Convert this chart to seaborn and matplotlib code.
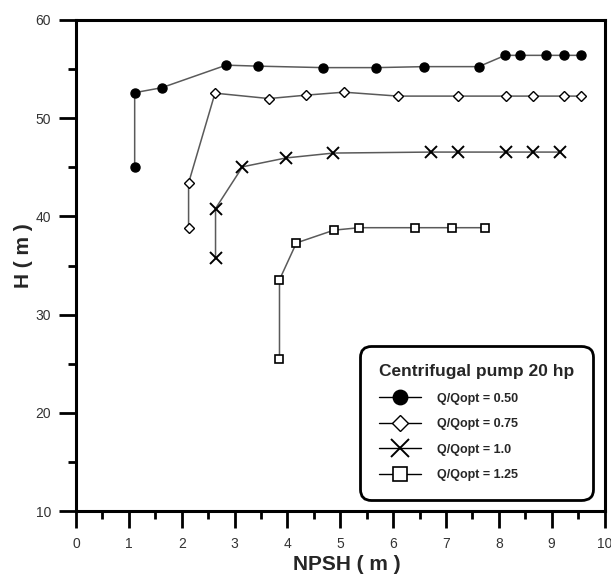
import matplotlib
matplotlib.use("Agg")
import matplotlib.pyplot as plt
from matplotlib.lines import Line2D
from matplotlib.ticker import MultipleLocator
import seaborn as sns
import pandas as pd

# ---- data ----
npsh_050 = [1.11, 1.11, 1.62, 2.84, 3.45, 4.67, 5.68, 6.59, 7.62, 8.12, 8.41, 8.90, 9.24, 9.55]
h_050 = [45.0, 52.6, 53.1, 55.4, 55.3, 55.15, 55.15, 55.25, 55.25, 56.4, 56.4, 56.4, 56.4, 56.4]

npsh_075 = [2.13, 2.13, 2.63, 3.65, 4.36, 5.07, 6.09, 7.22, 8.14, 8.65, 9.24, 9.56]
h_075 = [38.85, 43.4, 52.55, 52.0, 52.35, 52.65, 52.25, 52.25, 52.25, 52.25, 52.25, 52.25]

npsh_100 = [2.64, 2.64, 3.15, 3.97, 4.87, 6.71, 7.22, 8.14, 8.65, 9.15]
h_100 = [35.8, 40.8, 45.05, 45.95, 46.45, 46.55, 46.55, 46.55, 46.55, 46.55]

npsh_125 = [3.85, 3.85, 4.17, 4.88, 5.36, 6.41, 7.11, 7.73]
h_125 = [25.5, 33.55, 37.3, 38.6, 38.85, 38.85, 38.85, 38.85]

series_labels = ["Q/Qopt = 0.50", "Q/Qopt = 0.75", "Q/Qopt = 1.0", "Q/Qopt = 1.25"]
legend_title = "Centrifugal pump 20 hp"
x_label = "NPSH ( m )"
y_label = "H ( m )"
x_ticks = [0, 1, 2, 3, 4, 5, 6, 7, 8, 9, 10]
y_ticks = [10, 20, 30, 40, 50, 60]

# ---- styling ----
sns.set_style("ticks")
plt.rcParams["font.family"] = ["Liberation Sans", "DejaVu Sans"]

fig = plt.figure(figsize=(6.11, 5.76), dpi=100)
ax = fig.add_axes([0.1244, 0.1128, 0.865, 0.8525])

line_color = "#5a5a5a"
styles = [
    dict(marker="o", markersize=6.5, markerfacecolor="black", markeredgecolor="black", markeredgewidth=1.0),
    dict(marker="D", markersize=4.8, markerfacecolor="white", markeredgecolor="black", markeredgewidth=1.0),
    dict(marker="x", markersize=8.0, markerfacecolor="none", markeredgecolor="black", markeredgewidth=1.4),
    dict(marker="s", markersize=6.0, markerfacecolor="white", markeredgecolor="black", markeredgewidth=1.2),
]
xs = [npsh_050, npsh_075, npsh_100, npsh_125]
ys = [h_050, h_075, h_100, h_125]

for x, y, st in zip(xs, ys, styles):
    df = pd.DataFrame({"x": x, "y": y})
    sns.lineplot(data=df, x="x", y="y", ax=ax, sort=False, estimator=None,
                 color=line_color, linewidth=1.1, zorder=3, **st)

ax.set_xlim(0, 10)
ax.set_ylim(10, 60)
ax.set_xticks(x_ticks)
ax.set_yticks(y_ticks)
ax.xaxis.set_minor_locator(MultipleLocator(0.5))
ax.yaxis.set_minor_locator(MultipleLocator(5))
ax.tick_params(axis="both", which="major", direction="out", length=12, width=2,
               color="black", labelsize=10, labelcolor="#333333")
ax.tick_params(axis="both", which="minor", direction="out", length=6, width=2, color="black")
ax.tick_params(axis="x", which="major", pad=7)
ax.tick_params(axis="y", which="major", pad=6)
for sp in ax.spines.values():
    sp.set_visible(True)
    sp.set_linewidth(2.2)
    sp.set_color("black")

ax.set_xlabel(x_label, fontsize=15, fontweight="bold", va="top")
ax.set_ylabel(y_label, fontsize=15, fontweight="bold")
ax.xaxis.set_label_coords(0.513, -0.090)
ax.yaxis.set_label_coords(-0.082, 0.52)

handles = [Line2D([0], [0], color="black", linewidth=1.0,
                  **{**st, "markersize": st["markersize"] * 1.6}) for st in styles]
leg = ax.legend(handles, series_labels, title=legend_title, loc="lower left",
                bbox_to_anchor=(0.537, 0.0224), borderaxespad=0, frameon=True, fancybox=True,
                prop={"weight": "bold", "size": 9}, handlelength=3.4,
                handletextpad=1.3, labelspacing=1.08, borderpad=1.5,
                title_fontproperties={"weight": "bold", "size": 12.5})
frame = leg.get_frame()
frame.set_edgecolor("black")
frame.set_linewidth(2.0)
frame.set_facecolor("white")
frame.set_alpha(1)
frame.set_boxstyle("round,pad=0,rounding_size=0.9")
leg._legend_box.align = "left"
leg.get_title().set_ha("center")

ax.grid(False)
fig.savefig("out.png", dpi=100, facecolor="white")
